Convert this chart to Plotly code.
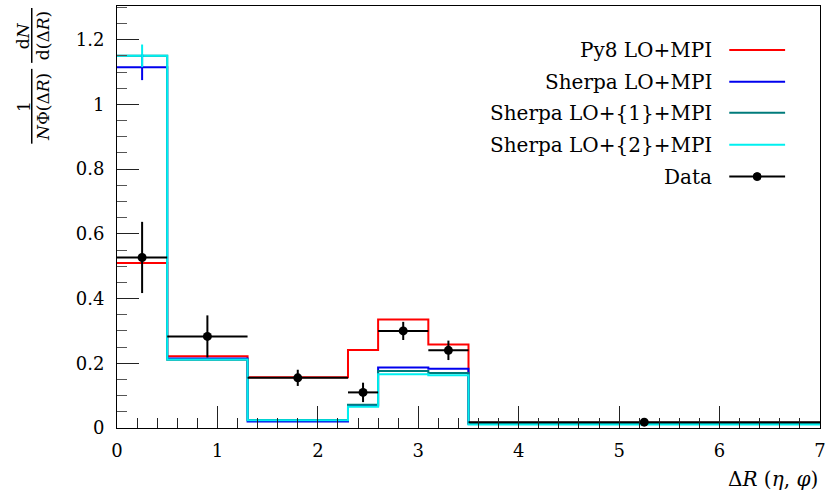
import plotly.graph_objects as go

# Bin edges in Delta R and per-bin values
edges = [0.0, 0.5, 1.3, 2.3, 2.6, 3.1, 3.5, 7.0]

py8_lo_mpi = [0.51, 0.222, 0.157, 0.241, 0.335, 0.258, 0.016]
sherpa_lo_mpi = [1.115, 0.215, 0.020, 0.069, 0.187, 0.183, 0.014]
sherpa_lo1_mpi = [1.150, 0.211, 0.025, 0.072, 0.176, 0.170, 0.013]
sherpa_lo2_mpi = [1.150, 0.212, 0.024, 0.066, 0.166, 0.163, 0.011]

sherpa_lo_mpi_err = [0.04, 0, 0, 0, 0, 0, 0]
sherpa_lo2_mpi_err = [0.035, 0, 0, 0, 0, 0, 0]

data_vals = [0.527, 0.283, 0.155, 0.110, 0.300, 0.240, 0.018]
data_err = [0.110, 0.065, 0.025, 0.030, 0.028, 0.030, 0.003]

x_ticks = [0, 1, 2, 3, 4, 5, 6, 7]
y_ticks = [0, 0.2, 0.4, 0.6, 0.8, 1.0, 1.2]

legend_labels = ["Py8 LO+MPI", "Sherpa LO+MPI", "Sherpa LO+{1}+MPI",
                 "Sherpa LO+{2}+MPI", "Data"]
colors = ["#ff0000", "#0000ee", "#007b7b", "#00f0f0", "#000000"]

FONT = "DejaVu Serif"
W, H = 831, 500
L, R, T, B = 117, 9, 5, 72
PW, PH = W - L - R, H - T - B


def px(xp):
    return (xp - L) / PW


def py(yp):
    return (H - B - yp) / PH


centers = [(a + b) / 2 for a, b in zip(edges[:-1], edges[1:])]
half_w = [(b - a) / 2 for a, b in zip(edges[:-1], edges[1:])]

fig = go.Figure()

series = [py8_lo_mpi, sherpa_lo_mpi, sherpa_lo1_mpi, sherpa_lo2_mpi]
for vals, col, name in zip(series, colors[:4], legend_labels[:4]):
    fig.add_trace(go.Scatter(
        x=edges, y=vals + [vals[-1]], mode="lines", line_shape="hv",
        line=dict(color=col, width=2), name=name, showlegend=False,
        hoverinfo="skip"))

# MC statistical uncertainties
for vals, errs, col in [(sherpa_lo_mpi, sherpa_lo_mpi_err, colors[1]),
                        (sherpa_lo2_mpi, sherpa_lo2_mpi_err, colors[3])]:
    fig.add_trace(go.Scatter(
        x=centers, y=vals, mode="markers", marker=dict(size=1, color=col, opacity=0),
        error_y=dict(type="data", array=errs, color=col, thickness=2, width=0),
        showlegend=False, hoverinfo="skip"))

fig.add_trace(go.Scatter(
    x=centers, y=data_vals, mode="markers",
    marker=dict(color="black", size=9),
    error_x=dict(type="data", array=half_w, color="black", thickness=2, width=0),
    error_y=dict(type="data", array=data_err, color="black", thickness=2, width=0),
    name="Data", showlegend=False))

axis_common = dict(
    showline=True, linecolor="black", linewidth=1, mirror=True,
    ticks="inside", ticklen=22, tickwidth=1, tickcolor="#222",
    showgrid=False, zeroline=False,
    tickfont=dict(family=FONT, size=18, color="black"),
)

fig.update_xaxes(range=[0, 7], tickvals=x_ticks, ticklabelstandoff=6,
                 minor=dict(dtick=0.2, ticks="inside", ticklen=10, tickcolor="#222"),
                 **axis_common)
fig.update_yaxes(range=[0, 1.304], tickvals=y_ticks, ticklabelstandoff=8,
                 minor=dict(dtick=0.05, ticks="inside", ticklen=10, tickcolor="#555"),
                 **axis_common)

annotations = []
shapes = []

# Legend: right-aligned labels with line samples to their right
row_y = [49, 81, 112, 144, 176]
for lab, col, yy in zip(legend_labels, colors, row_y):
    annotations.append(dict(
        x=px(716), y=py(yy), xref="paper", yref="paper", text=lab,
        showarrow=False, xanchor="right", yanchor="middle",
        font=dict(family=FONT, size=20, color="black")))
    shapes.append(dict(type="line", xref="paper", yref="paper",
                       x0=px(731), x1=px(787), y0=py(yy), y1=py(yy),
                       line=dict(color=col, width=2)))
shapes.append(dict(type="circle", xref="paper", yref="paper",
                   x0=px(755), x1=px(763), y0=py(180), y1=py(172),
                   fillcolor="black", line=dict(color="black", width=1)))

# x-axis title
annotations.append(dict(
    x=1, y=py(479), xref="paper", yref="paper",
    text="Δ<i>R</i> (<i>η</i>, <i>φ</i>)", showarrow=False,
    xanchor="right", yanchor="middle",
    font=dict(family=FONT, size=20, color="black")))

# y-axis title: (1 / NΦ(ΔR)) · dN / d(ΔR), rotated
yfont = dict(family=FONT, size=17, color="black")
for txt, xc, yc in [("d<i>N</i>", 23, 35), ("d(Δ<i>R</i>)", 43, 35),
                    ("1", 23, 106), ("<i>N</i>Φ(Δ<i>R</i>)", 43, 106)]:
    annotations.append(dict(x=px(xc), y=py(yc), xref="paper", yref="paper",
                            text=txt, showarrow=False, textangle=-90,
                            xanchor="center", yanchor="middle", font=yfont))
for y0, y1 in [(7, 62), (68, 143)]:
    shapes.append(dict(type="line", xref="paper", yref="paper",
                       x0=px(31.5), x1=px(31.5), y0=py(y0), y1=py(y1),
                       line=dict(color="black", width=1.5)))

fig.update_layout(
    width=W, height=H, margin=dict(l=L, r=R, t=T, b=B),
    paper_bgcolor="white", plot_bgcolor="white",
    font=dict(family=FONT),
    annotations=annotations, shapes=shapes, showlegend=False,
)

fig.write_html("out.html")
